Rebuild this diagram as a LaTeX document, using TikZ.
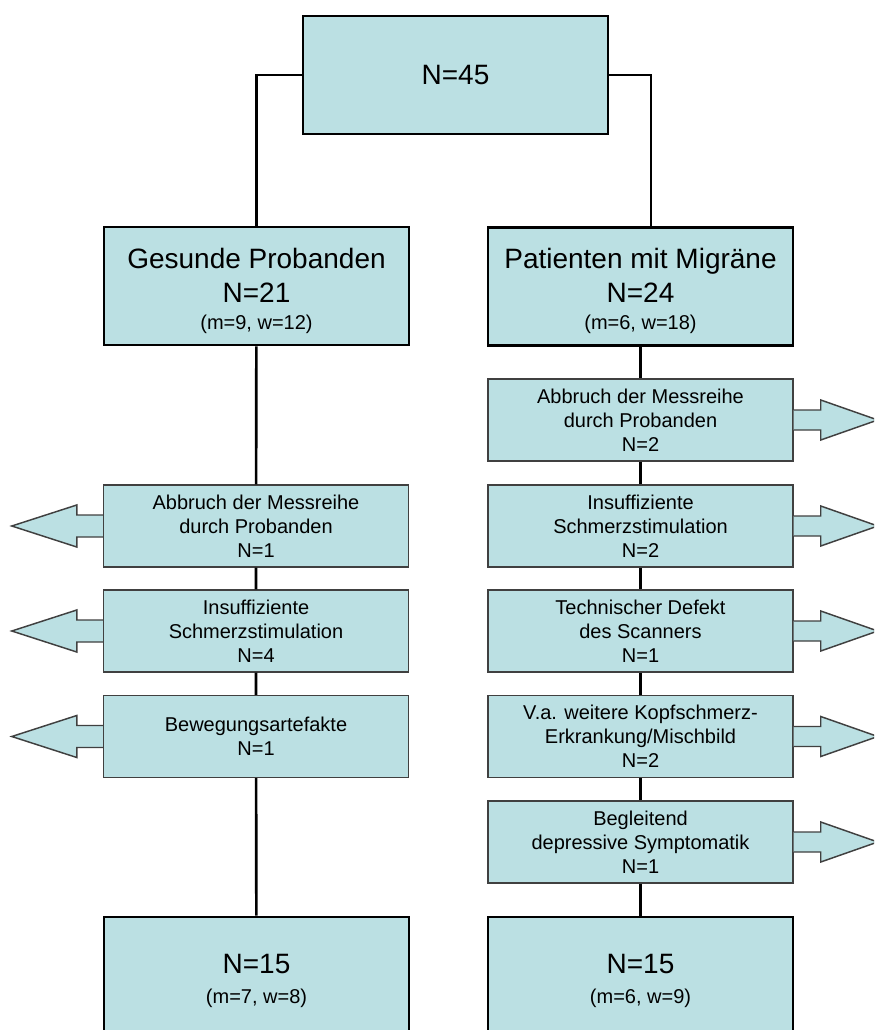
\documentclass[tikz,border=0pt]{standalone}
\usepackage{fontspec}
\setmainfont{Liberation Sans}

\definecolor{boxfill}{RGB}{187,224,227}
\newcommand\bigtxt{\fontsize{21}{25.5}\selectfont}
\newcommand\smalltxt{\fontsize{15}{18}\selectfont}

\tikzset{
    bigbox/.style={draw=black, line width=2pt, fill=boxfill, inner sep=0pt,
        minimum width=228.75pt, minimum height=88.5pt, align=center, font=\bigtxt},
    dropbox/.style={draw=black!75, line width=1.1pt, fill=boxfill, inner sep=0pt,
        minimum width=228.75pt, minimum height=61.5pt, align=center, font=\smalltxt},
    flag/.style={draw=black!75, line width=1.1pt, fill=boxfill, line join=miter},
    link/.style={draw=black, line width=1.6pt},
    stem/.style={draw=black, line width=2pt}
}

\begin{document}
\begin{tikzpicture}[x=0.75pt, y=-0.75pt]
    \useasboundingbox (0,0) rectangle (874,1030);
    \clip (0,0) rectangle (874,1030);

    \node[bigbox] (top) at (455.5,75) {N=45};
    \node[bigbox] (ges) at (256.5,286) {\rule{0pt}{22pt}Gesunde Probanden\\N=21\\[-5.25pt]\smalltxt (m=9, w=12)};
    \node[bigbox] (pat) at (640.5,286.5) {\rule{0pt}{22pt}Patienten mit Migräne\\N=24\\[-5.25pt]\smalltxt (m=6, w=18)};

    \node[dropbox] (l1) at (256,526) {Abbruch der Messreihe\\durch Probanden\\N=1};
    \node[dropbox] (l2) at (256,631) {Insuffiziente\\Schmerzstimulation\\N=4};
    \node[dropbox] (l3) at (256,736.5) {Bewegungsartefakte\\N=1};

    \node[dropbox] (r1) at (640.5,420) {Abbruch der Messreihe\\durch Probanden\\N=2};
    \node[dropbox] (r2) at (640.5,526) {Insuffiziente\\Schmerzstimulation\\N=2};
    \node[dropbox] (r3) at (640.5,631) {Technischer Defekt\\des Scanners\\N=1};
    \node[dropbox] (r4) at (640.5,736.5) {V.a. weitere Kopfschmerz-\\Erkrankung/Mischbild\\N=2};
    \node[dropbox] (r5) at (640.5,842) {Begleitend\\depressive Symptomatik\\N=1};

    \node[bigbox] (lend) at (256.5,976) {\rule{0pt}{22.5pt}N=15\\[-3pt]\smalltxt (m=7, w=8)};
    \node[bigbox] (rend) at (640.5,976) {\rule{0pt}{22.5pt}N=15\\[-3pt]\smalltxt (m=6, w=9)};

    \path[link] (top.west) -| (ges.north);
    \path[link] (top.east) -| ([xshift=8pt]pat.north);
    \path[stem] (ges) -- (l1) -- (l2) -- (l3) -- (lend);
    \path[stem] (pat) -- (r1) -- (r2) -- (r3) -- (r4) -- (r5) -- (rend);

    \foreach \b in {l1,l2,l3}
        \path[flag] (\b.west) ++(0,-11) -- ++(-26,0) -- ++(0,-10) -- ++(-65,21)
            -- ++(65,21) -- ++(0,-10) -- ++(26,0);
    \foreach \b in {r1,r2,r3,r4,r5}
        \path[flag] (\b.east) ++(0,-10) -- ++(27,0) -- ++(0,-10) -- ++(57,20)
            -- ++(-57,20) -- ++(0,-10) -- ++(-27,0);
\end{tikzpicture}
\end{document}
